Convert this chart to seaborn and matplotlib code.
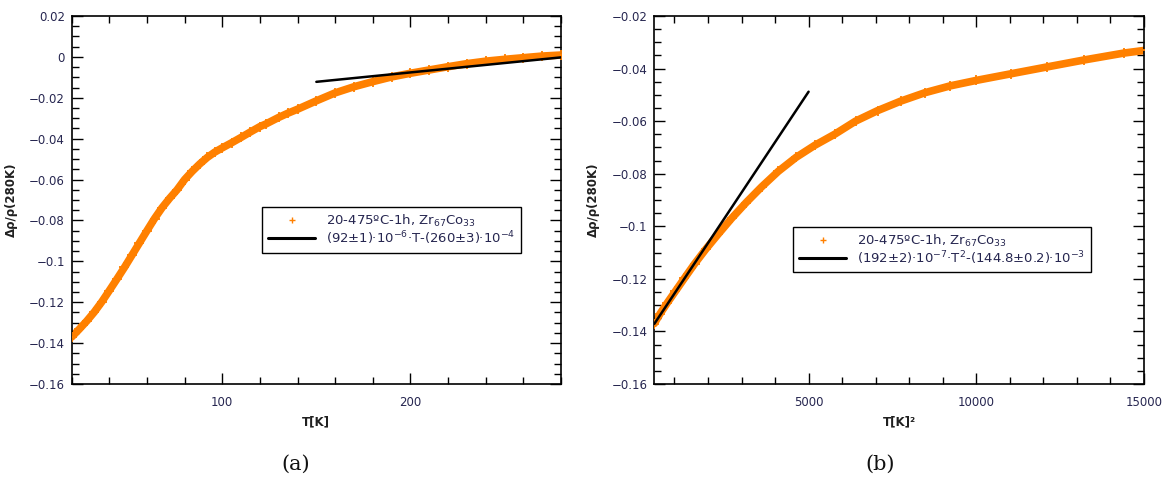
import numpy as np
import pandas as pd
import matplotlib
matplotlib.use("Agg")
import matplotlib.pyplot as plt
import seaborn as sns
from matplotlib.lines import Line2D
from matplotlib.ticker import MultipleLocator, FuncFormatter

# ---- data ----
T_K = [20, 24, 28, 32, 36, 40, 44, 48, 52, 56, 60, 64, 68, 72, 76, 80, 84, 88,
       92, 96, 100, 105, 110, 115, 120, 123, 130, 135, 140, 150, 160, 170, 180,
       190, 200, 210, 220, 230, 240, 250, 260, 270, 280]
drho = [-0.1370, -0.1332, -0.1292, -0.1248, -0.1198, -0.1143, -0.1087, -0.1030,
        -0.0970, -0.0910, -0.0850, -0.0791, -0.0738, -0.0692, -0.0650, -0.0600,
        -0.0560, -0.0524, -0.0492, -0.0466, -0.0445, -0.0420, -0.0394, -0.0367,
        -0.0341, -0.0329, -0.0296, -0.0275, -0.0256, -0.0215, -0.0176, -0.0146,
        -0.0121, -0.0098, -0.0080, -0.0064, -0.0048, -0.0033, -0.0021, -0.0012,
        -0.0004, 0.0004, 0.0009]

# fit (a): (92±1)e-6*T - (260±3)e-4
fit_a_T = [150, 280]
fit_a_slope, fit_a_icpt = 92e-6, -260e-4
# fit (b): (192±2)e-7*T^2 - (144.8±0.2)e-3
fit_b_T2 = [400, 5000]
fit_b_slope, fit_b_icpt = 192e-7, -144.8e-3

label_data = "20-475ºC-1h, Zr$_{67}$Co$_{33}$"
label_fit_a = "(92±1)·10$^{-6}$·T-(260±3)·10$^{-4}$"
label_fit_b = "(192±2)·10$^{-7}$·T$^{2}$-(144.8±0.2)·10$^{-3}$"

ORANGE = "#FF8000"
TXT = "#262650"

sns.set_style("ticks")
plt.rcParams["font.family"] = ["DejaVu Sans"]

df = pd.DataFrame({"T": T_K, "y": drho})
df["T2"] = df["T"] ** 2
dfb = df[df["T2"] <= 15200]

fa = pd.DataFrame({"x": fit_a_T})
fa["y"] = fit_a_slope * fa["x"] + fit_a_icpt
fb = pd.DataFrame({"x": fit_b_T2})
fb["y"] = fit_b_slope * fb["x"] + fit_b_icpt

fig = plt.figure(figsize=(11.69, 4.79), dpi=100)
axA = fig.add_axes([71.7 / 1169, 95 / 479, 489.3 / 1169, 368 / 479])
axB = fig.add_axes([654.3 / 1169, 95 / 479, 489.7 / 1169, 368 / 479])

fmt = FuncFormatter(lambda v, p: f"{v:g}".replace("-", "\u2212") if abs(v) > 1e-12 else "0")


def draw(ax, d, xcol, fit):
    sns.lineplot(data=d, x=xcol, y="y", ax=ax, color=ORANGE, lw=5.5, sort=False,
                 estimator=None, legend=False)
    sns.scatterplot(data=d, x=xcol, y="y", ax=ax, color=ORANGE, marker="+", s=60,
                    linewidth=1.3, legend=False, zorder=3)
    sns.lineplot(data=fit, x="x", y="y", ax=ax, color="black", lw=1.8, legend=False,
                 zorder=4)
    for s in ax.spines.values():
        s.set_visible(True)
        s.set_color("black")
        s.set_linewidth(1.2)
    ax.tick_params(which="both", direction="in", top=True, right=True,
                   colors="black", labelcolor=TXT, labelsize=8.5)
    ax.tick_params(which="major", length=8, width=1.0)
    ax.tick_params(which="minor", length=4.8, width=1.0)
    ax.tick_params(axis="x", which="major", pad=9)
    ax.tick_params(axis="y", which="major", pad=5)
    ax.yaxis.set_major_formatter(fmt)
    ax.set_ylabel("Δρ/ρ(280K)", fontsize=8.5, fontweight="bold", color="#202020",
                  labelpad=8)


draw(axA, df, "T", fa)
axA.set_xlim(20, 280)
axA.set_ylim(-0.16, 0.02)
axA.xaxis.set_major_locator(MultipleLocator(100))
axA.xaxis.set_minor_locator(MultipleLocator(20))
axA.yaxis.set_major_locator(MultipleLocator(0.02))
axA.yaxis.set_minor_locator(MultipleLocator(0.005))
axA.set_xlabel("T[K]", fontsize=8.5, fontweight="bold", color="#202020", labelpad=4)

draw(axB, dfb, "T2", fb)
axB.set_xlim(400, 15000)
axB.set_ylim(-0.16, -0.02)
axB.xaxis.set_major_locator(MultipleLocator(5000))
axB.xaxis.set_minor_locator(MultipleLocator(1000))
axB.yaxis.set_major_locator(MultipleLocator(0.02))
axB.yaxis.set_minor_locator(MultipleLocator(0.005))
axB.xaxis.set_major_formatter(FuncFormatter(lambda v, p: f"{v:g}"))
axB.set_xlabel("T[K]²", fontsize=8.5, fontweight="bold", color="#202020", labelpad=4)


def legend(ax, fit_label, anchor):
    h = [Line2D([], [], color=ORANGE, marker="+", ls="none", markersize=5, mew=1.0),
         Line2D([], [], color="black", lw=2.2)]
    lg = ax.legend(h, [label_data, fit_label], loc="upper left", bbox_to_anchor=anchor,
                   fontsize=9.5, frameon=True, fancybox=False, framealpha=1,
                   edgecolor="black", handlelength=3.6, borderpad=0.45,
                   labelspacing=0.0, handletextpad=0.8, borderaxespad=0)
    lg.get_frame().set_linewidth(1.0)
    for t in lg.get_texts():
        t.set_color(TXT)


legend(axA, label_fit_a, (0.389, 0.481))
legend(axB, label_fit_b, (0.283, 0.427))

fig.text(296 / 1169, 1 - 464 / 479, "(a)", ha="center", va="center",
         fontsize=15, family="DejaVu Serif", color="#111111")
fig.text(880 / 1169, 1 - 464 / 479, "(b)", ha="center", va="center",
         fontsize=15, family="DejaVu Serif", color="#111111")

fig.savefig("out.png", dpi=100, facecolor="white")
